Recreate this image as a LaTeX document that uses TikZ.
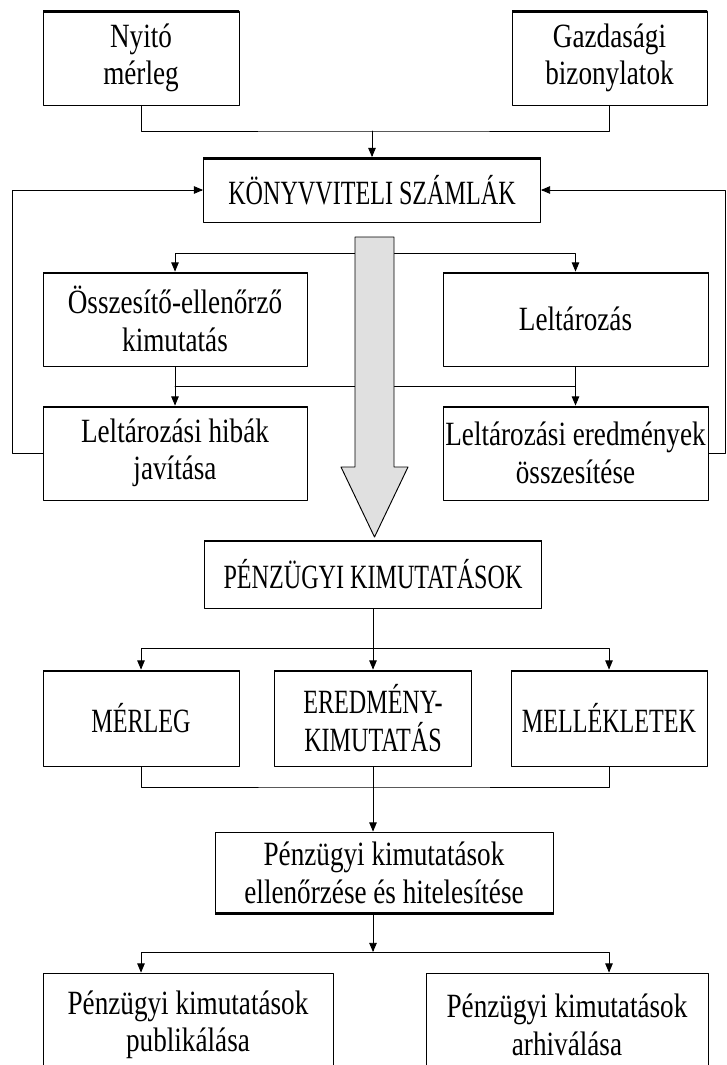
\documentclass[tikz,border=0pt]{standalone}
\usepackage{fontspec}
\setmainfont{Liberation Serif}[FakeStretch=0.8]
\newfontfamily\capsfont{Liberation Serif}[FakeStretch=0.71]
\usetikzlibrary{arrows}

\begin{document}
\begin{tikzpicture}[line cap=round,line join=round,>=triangle 45,x=0.3mm,y=-0.3mm,line width=0.8pt,
  box/.style={draw,align=center,inner sep=0pt,font=\fontsize{29}{32}\selectfont},
  capsbox/.style={box,font=\capsfont\fontsize{29}{32}\selectfont},
  boxsize/.style 2 args={minimum width=#1*0.3mm,minimum height=#2*0.3mm},
  topedge/.style={path picture={\draw[line width=4pt] (path picture bounding box.north west)--(path picture bounding box.north east);}},
  bottomedge/.style={path picture={\draw[line width=4pt] (path picture bounding box.south west)--(path picture bounding box.south east);}},
  bigarrow/.style={fill=black!12}]
\useasboundingbox (0,0) rectangle (726,1065);
\clip (0,0) rectangle (726,1065);
\node[box,topedge,boxsize={196}{94}] (nyito) at (141,58) {Nyitó\\mérleg};
\node[box,topedge,boxsize={195}{94}] (gazd) at (609.5,58) {Gazdasági\\bizonylatok};
\node[capsbox,topedge,boxsize={337}{65}] (konyv) at (372,190) {KÖNYVVITELI SZÁMLÁK};
\node[box,topedge,boxsize={264}{94}] (ossz) at (175,319) {Összesítő-ellenőrző\\kimutatás};
\node[box,topedge,boxsize={265}{94}] (leltar) at (575.5,319) {Leltározás};
\node[box,topedge,boxsize={264}{94}] (hibak) at (175,453) {Leltározási hibák\\javítása};
\node[box,topedge,boxsize={265}{94}] (eredm) at (575.5,453) {Leltározási eredmények\\összesítése};
\node[capsbox,topedge,boxsize={337}{68}] (penz) at (373,574) {PÉNZÜGYI KIMUTATÁSOK};
\node[capsbox,topedge,boxsize={196}{96}] (merleg) at (141,718) {MÉRLEG};
\node[capsbox,topedge,boxsize={197}{96}] (eredmeny) at (373,718) {EREDMÉNY-\\KIMUTATÁS};
\node[capsbox,topedge,boxsize={196}{96}] (mellek) at (609,718) {MELLÉKLETEK};
\node[box,bottomedge,boxsize={338}{82}] (ellen) at (384,873) {Pénzügyi kimutatások\\ellenőrzése és hitelesítése};
\node[box,boxsize={290}{104}] (publ) at (188,1025) {Pénzügyi kimutatások\\publikálása};
\node[box,boxsize={282}{104}] (arch) at (567,1025) {Pénzügyi kimutatások\\arhiválása};
\coordinate (j1) at (372,131);
\coordinate (j2) at (372,253);
\coordinate (j3) at (372,386);
\coordinate (j4) at (373,648);
\coordinate (j5) at (373,787);
\coordinate (j6) at (373,952);
\draw (nyito.south) |- (j1) -| (gazd.south);
\draw[->] (j1) -- (konyv.north);
\draw[->] (hibak.west) -- ++(-30,0) |- (konyv.west);
\draw[->] (eredm.east) -- ++(17,0) |- (konyv.east);
\draw[->] (j2) -| (ossz.north);
\draw[->] (j2) -| (leltar.north);
\draw[->] (ossz.south) -- (hibak.north);
\draw[->] (leltar.south) -- (eredm.north);
\draw (ossz.south |- j3) -- (leltar.south |- j3);
\draw[bigarrow] (355,237) -- (355,467) -- (341,467) -- (374.5,537) -- (408,467) -- (394,467) -- (394,237) -- cycle;
\draw[->] (penz.south) -- (eredmeny.north);
\draw[->] (j4) -| (merleg.north);
\draw[->] (j4) -| (mellek.north);
\draw (merleg.south) |- (j5) -| (mellek.south);
\draw[->] (eredmeny.south) -- (eredmeny.south |- ellen.north);
\draw[->] (eredmeny.south |- ellen.south) -- (j6);
\draw[->] (j6) -| (merleg.south |- publ.north);
\draw[->] (j6) -| (mellek.south |- arch.north);
\end{tikzpicture}
\end{document}
